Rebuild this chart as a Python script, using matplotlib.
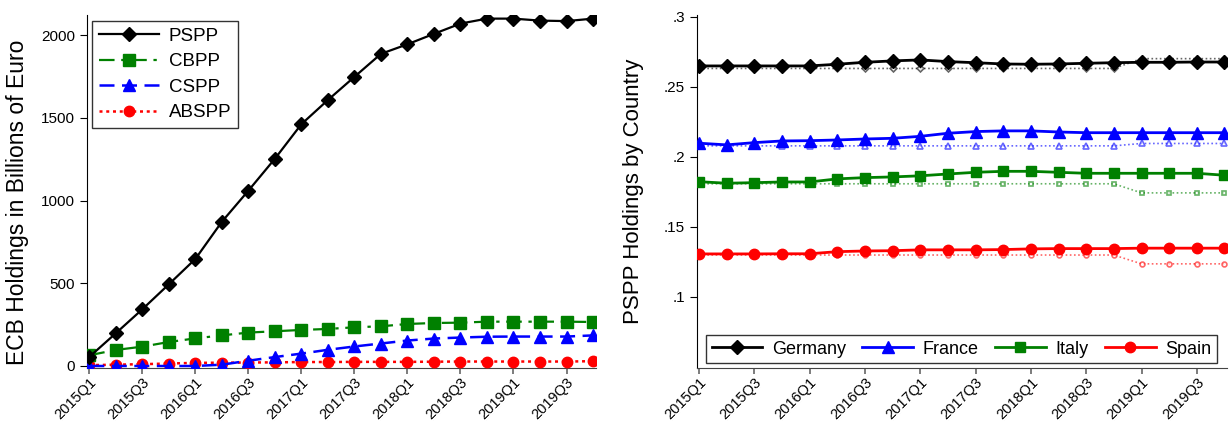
import matplotlib
matplotlib.use("Agg")
import matplotlib.pyplot as plt
import numpy as np

plt.rcParams['font.family'] = ['Liberation Sans', 'DejaVu Sans']

quarters = [f"{y}Q{q}" for y in range(2015, 2020) for q in range(1, 5)]
tick_labels = quarters[::2]

# Left panel: ECB holdings (billions of euro)
pspp = [55, 198, 343, 494, 647, 872, 1060, 1253, 1462, 1608, 1748, 1887, 1945, 2008, 2070, 2100, 2100, 2088, 2085, 2100]
cbpp = [65, 97, 117, 145, 167, 185, 202, 210, 218, 224, 234, 240, 254, 260, 262, 268, 268, 268, 268, 266]
cspp = [0, 0, 0, 0, 0, 8, 32, 54, 75, 98, 118, 136, 154, 166, 172, 177, 178, 178, 178, 185]
abspp = [5, 8, 11, 15, 19, 20, 21, 22, 24, 24, 25, 25, 25, 26, 27, 27, 27, 27, 27, 29]

# Right panel: PSPP holdings shares by country (actual)
germany = [0.2648, 0.2648, 0.2648, 0.2648, 0.2648, 0.2660, 0.2674, 0.2684, 0.2691, 0.2679,
           0.2671, 0.2662, 0.2660, 0.2662, 0.2667, 0.2671, 0.2674, 0.2674, 0.2676, 0.2676]
france = [0.2096, 0.2084, 0.2100, 0.2112, 0.2114, 0.2119, 0.2126, 0.2131, 0.2145, 0.2167,
          0.2179, 0.2184, 0.2184, 0.2176, 0.2171, 0.2171, 0.2171, 0.2171, 0.2171, 0.2171]
italy = [0.1821, 0.1810, 0.1814, 0.1819, 0.1819, 0.1841, 0.1850, 0.1855, 0.1863, 0.1876,
         0.1888, 0.1895, 0.1895, 0.1888, 0.1881, 0.1881, 0.1881, 0.1881, 0.1881, 0.1867]
spain = [0.1305, 0.1305, 0.1305, 0.1306, 0.1306, 0.1321, 0.1326, 0.1328, 0.1334, 0.1334,
         0.1334, 0.1336, 0.1341, 0.1343, 0.1343, 0.1343, 0.1346, 0.1346, 0.1346, 0.1346]
# Capital keys (dotted reference)
germany_key = [0.2630] * 16 + [0.2700] * 4
france_key = [0.2077] * 16 + [0.2094] * 4
italy_key = [0.1806] * 16 + [0.1741] * 4
spain_key = [0.1297] * 16 + [0.1234] * 4

x = np.arange(len(quarters))

fig = plt.figure(figsize=(12.31, 4.22), dpi=100)
ax1 = fig.add_axes([0.0704, 0.128, 0.4135, 0.8365])
ax2 = fig.add_axes([0.566, 0.128, 0.4305, 0.8365])

GREEN = '#008000'
BLUE = '#0000FF'
RED = '#FF0000'

ax1.plot(x, pspp, color='black', lw=1.6, marker='D', ms=7, label='PSPP', zorder=5)
ax1.plot(x, cbpp, color=GREEN, lw=1.6, ls=(0, (7, 3, 1.5, 3)), marker='s', ms=8, label='CBPP', zorder=4)
ax1.plot(x, cspp, color=BLUE, lw=1.8, ls=(0, (6, 3)), marker='^', ms=9, label='CSPP', zorder=4)
ax1.plot(x, abspp, color=RED, lw=1.8, ls=(0, (1.2, 1.5)), marker='o', ms=7.5, label='ABSPP', zorder=3)

ax1.set_xlim(-0.1, 19.1)
ax1.set_ylim(-12, 2122)
ax1.set_yticks([0, 500, 1000, 1500, 2000])
ax1.set_ylabel('ECB Holdings in Billions of Euro', fontsize=16.5)
ax1.yaxis.set_label_coords(-0.113, 0.47)
leg1 = ax1.legend(loc='upper left', fontsize=13.5, frameon=True, fancybox=False,
                  edgecolor='black', handlelength=3.2, borderpad=0.35, labelspacing=0.45,
                  bbox_to_anchor=(0.0104, 0.983), borderaxespad=0, handletextpad=0.55)
leg1.get_frame().set_linewidth(1.0)

def style(ax):
    ax.spines['top'].set_visible(False)
    ax.spines['right'].set_visible(False)
    ax.spines['left'].set_color('black')
    ax.spines['bottom'].set_color('#444444')
    ax.set_xticks(x[::2])
    ax.set_xticklabels(tick_labels, rotation=45, ha='right', rotation_mode='anchor', fontsize=10.5)
    ax.tick_params(axis='x', color='#666666', length=4, width=1.2, pad=1.5)
    ax.tick_params(axis='y', labelsize=11, length=5, color='black')

style(ax1)

# Right panel
solid = [(germany, 'black', 'D', 'Germany', 7.5), (france, BLUE, '^', 'France', 8.5),
         (italy, GREEN, 's', 'Italy', 7.5), (spain, RED, 'o', 'Spain', 7.5)]
keys = [(germany_key, 'black', 'D', 3.5), (france_key, BLUE, '^', 4),
        (italy_key, GREEN, 's', 3.5), (spain_key, RED, 'o', 3.5)]

for vals, c, m, ms in keys:
    ax2.plot(x, vals, color=c, lw=1.2, ls=(0, (1, 1.5)), alpha=0.6, marker=m, ms=ms,
             mfc='white', mec=c, mew=1.2, zorder=2)
for vals, c, m, lab, ms in solid:
    ax2.plot(x, vals, color=c, lw=2.0, marker=m, ms=ms, label=lab, zorder=4)

ax2.set_xlim(-0.08, 19.08)
ax2.set_ylim(0.049, 0.3012)
ax2.set_yticks([0.1, 0.15, 0.2, 0.25, 0.3])
ax2.set_yticklabels(['.1', '.15', '.2', '.25', '.3'])
ax2.set_ylabel('PSPP Holdings by Country', fontsize=16, labelpad=14)
leg2 = ax2.legend(loc='lower center', ncol=4, fontsize=13, frameon=True, fancybox=False,
                  edgecolor='black', handlelength=2.8, borderpad=0.3, columnspacing=0.9,
                  handletextpad=0.55, bbox_to_anchor=(0.5, 0.014), borderaxespad=0)
leg2.get_frame().set_linewidth(1.0)
style(ax2)

fig.savefig('out.png', dpi=100)
